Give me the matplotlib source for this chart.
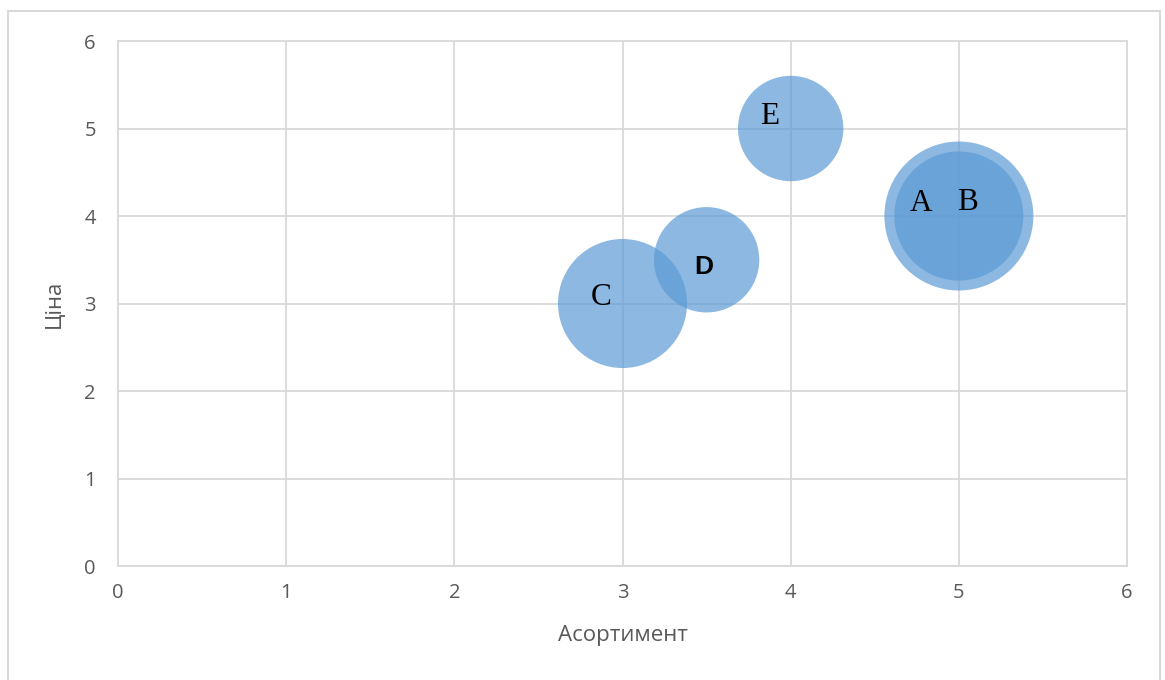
import matplotlib.pyplot as plt
from matplotlib.patches import Rectangle

# bubble data: assortment (x), price (y), bubble size
names = ["A", "B", "C", "D", "E"]
assortment = [5, 5, 3, 3.5, 4]
price = [4, 4, 3, 3.5, 5]
sizes = [8, 6, 6, 4, 4]

# label offsets in points (Excel-style data labels)
label_dx = [-27, 6, -15, -2, -15]
label_dy = [9, 10, 4, -5, 9]

fig = plt.figure(figsize=(11.65, 6.8), dpi=100)
ax = fig.add_axes([0.1013, 0.1676, 0.8661, 0.7721])

# largest bubble is ~149 px across
max_d_pt = 149 * 72 / 100
s = [(max_d_pt ** 2) * v / max(sizes) for v in sizes]

ax.scatter(assortment, price, s=s, color="#5B9BD5", alpha=0.7,
           edgecolors="none", zorder=3)

serif = ["Liberation Serif", "DejaVu Serif"]
for i, n in enumerate(names):
    if n == "D":
        fam, fs, fw = ["Liberation Sans", "DejaVu Sans"], 19, "bold"
    else:
        fam, fs, fw = serif, 22.5, "normal"
    ax.annotate(n, (assortment[i], price[i]), xytext=(label_dx[i], label_dy[i]),
                textcoords="offset points", ha="center", va="center",
                family=fam, fontsize=fs, fontweight=fw, color="black", zorder=4)

ax.set_xlim(0, 6)
ax.set_ylim(0, 6)
ax.set_xticks(range(0, 7))
ax.set_yticks(range(0, 7))
ax.grid(True, color="#D9D9D9", linewidth=1.3, zorder=0)
for sp in ax.spines.values():
    sp.set_color("#D9D9D9")
    sp.set_linewidth(1.3)
ax.tick_params(length=0, labelsize=14.5, labelcolor="#595959")
ax.tick_params(axis="y", pad=16)
ax.tick_params(axis="x", pad=12)
for lab in ax.get_xticklabels() + ax.get_yticklabels():
    lab.set_family(["Open Sans", "DejaVu Sans"])

ax.set_xlabel("Асортимент", fontsize=16, color="#595959",
              family=["Open Sans", "DejaVu Sans"], labelpad=16)
ax.set_ylabel("Ціна", fontsize=16, color="#595959",
              family=["Open Sans", "DejaVu Sans"], labelpad=14)

# outer chart border
fig.patches.append(Rectangle((8 / 1165, -0.01), 1152 / 1165, 1 - 11 / 680 + 0.01,
                             transform=fig.transFigure, fill=False,
                             edgecolor="#D9D9D9", linewidth=1.5))

fig.savefig("out.png", dpi=100)
